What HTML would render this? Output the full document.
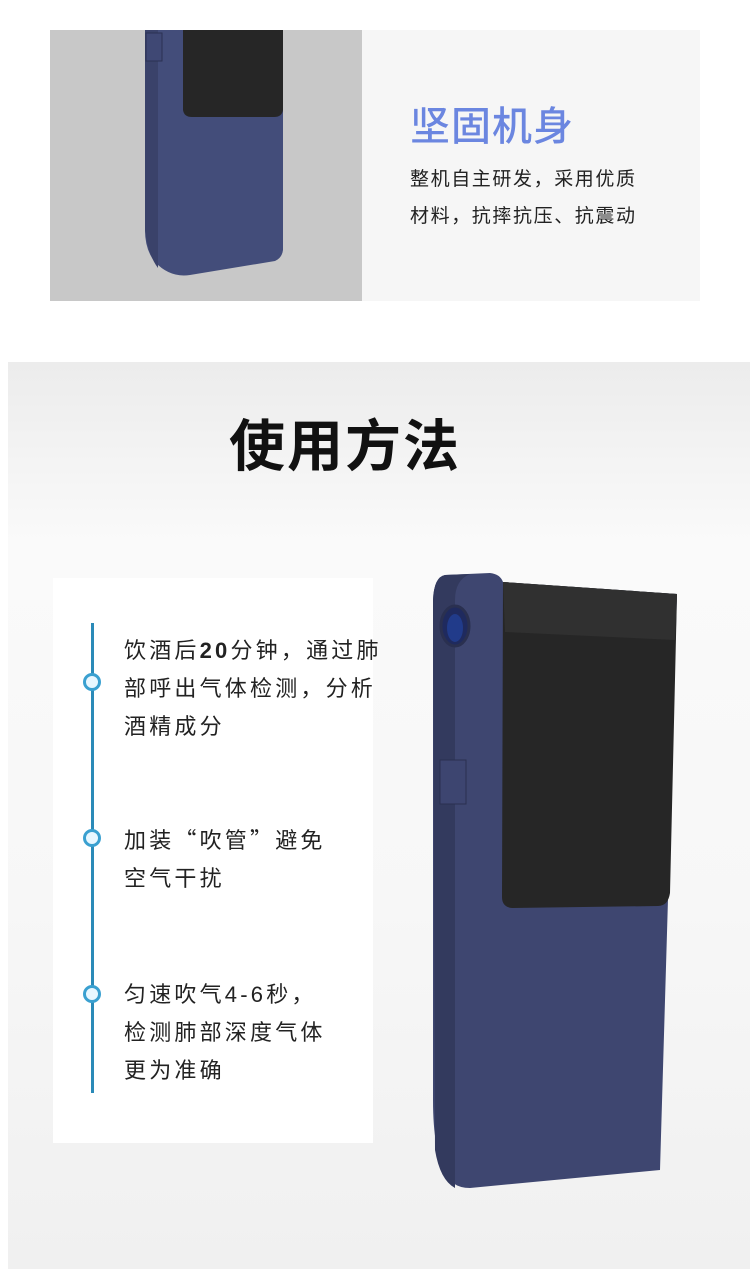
<!DOCTYPE html>
<html><head><meta charset="utf-8"><style>
body{margin:0;width:750px;height:1269px;background:#fff;position:relative;overflow:hidden;font-family:"Liberation Sans","Noto Sans CJK SC",sans-serif}
.a{position:absolute}
.t{position:absolute;left:124px;font-size:22px;letter-spacing:3.2px;line-height:38px;color:#222;white-space:nowrap}
.q{font-family:"Noto Sans CJK SC",sans-serif}
.c{position:absolute;left:83px;border-radius:50%;background:#e8f7ff;border:3px solid #3aa0d0;box-sizing:border-box;width:18px;height:18px}
</style></head><body>
<div class="a" style="left:50px;top:30px;width:312px;height:271px;background:#c8c8c8"></div>
<div class="a" style="left:362px;top:30px;width:338px;height:271px;background:#f6f6f6"></div>
<svg class="a" style="left:0;top:0" width="750" height="310">
<path d="M148 30 L283 30 L283 250 Q282 258 275 261 L190 275 Q170 278 155 262 Q145 250 145 230 Z" fill="#434d7a"/>
<path d="M145 30 L158 30 L158 268 Q148 255 145 230 Z" fill="#3a426a"/>
<rect x="146" y="33" width="16" height="28" fill="#3f4874" stroke="#2b3153"/>
<path d="M183 30 L283 30 L283 110 Q282 117 274 117 L192 117 Q184 117 183 110 Z" fill="#262626"/>
</svg>
<div class="a" style="left:410px;top:94px;font-size:40px;color:#6b86e0;letter-spacing:1px;font-weight:500">坚固机身</div>
<div class="a" style="left:410px;top:161px;font-size:19px;letter-spacing:1.6px;line-height:37px;color:#222">整机自主研发，采用优质<br>材料，抗摔抗压、抗震动</div>
<div class="a" style="left:8px;top:362px;width:742px;height:907px;background:linear-gradient(180deg,#ececec 0%,#fafafa 20%,#f7f7f7 60%,#f0f0f0 100%)"></div>
<div class="a" style="left:0;top:402px;width:690px;text-align:center;font-size:56px;color:#111;letter-spacing:2px;font-weight:bold">使用方法</div>
<div class="a" style="left:53px;top:578px;width:320px;height:565px;background:#fff"></div>
<div class="a" style="left:91px;top:623px;width:3px;height:470px;background:#2a8ab8"></div>
<div class="c" style="top:673px"></div>
<div class="c" style="top:829px"></div>
<div class="c" style="top:985px"></div>
<div class="t" style="top:632px">饮酒后<b>20</b>分钟，通过肺<br>部呼出气体检测，分析<br>酒精成分</div>
<div class="t" style="top:820px">加装<span class="q">“</span>吹管<span class="q">”</span>避免<br>空气干扰</div>
<div class="t" style="top:976px">匀速吹气4-6秒，<br>检测肺部深度气体<br>更为准确</div>
<svg class="a" style="left:0;top:0" width="750" height="1269">
<path d="M445 575 L490 573 Q500 574 503 582 L677 594 L660 1170 L470 1188 Q450 1188 445 1170 Q433 1150 433 1100 L433 600 Q434 577 445 575 Z" fill="#3e4670"/>
<path d="M445 575 L470 574 Q455 580 455 600 L455 1188 Q440 1180 435 1150 L433 600 Q434 577 445 575 Z" fill="#333a5e"/>
<ellipse cx="455" cy="626" rx="14" ry="20" fill="#1f2a5e" stroke="#2a3050" stroke-width="3"/>
<ellipse cx="455" cy="628" rx="8" ry="14" fill="#213b8a"/>
<rect x="440" y="760" width="26" height="44" fill="#3d4570" stroke="#2a3050"/>
<path d="M503 582 L677 594 L670 893 Q668 906 658 906 L512 908 Q502 907 502 897 Z" fill="#262626"/>
<path d="M503 582 L677 594 L675 640 L505 632 Z" fill="#303030"/>
</svg>
</body></html>
